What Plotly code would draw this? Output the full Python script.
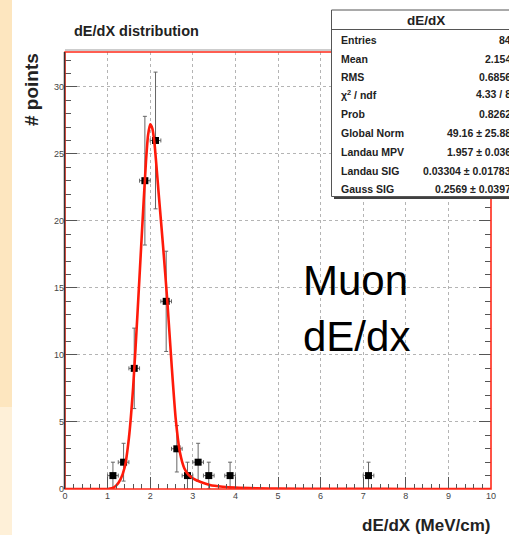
import plotly.graph_objects as go

# Histogram of dE/dX (bin width 0.25 MeV/cm)
bin_centers = [1.125, 1.375, 1.625, 1.875, 2.125, 2.375, 2.625, 2.875, 3.125, 3.375, 3.875, 7.125]
counts = [1, 2, 9, 23, 26, 14, 3, 1, 2, 1, 1, 1]
count_errors = [1.0, 1.41, 3.0, 4.8, 5.1, 3.74, 1.73, 1.0, 1.41, 1.0, 1.0, 1.0]
half_bin = 0.125

# Landau (x) Gauss fit curve
fit_x = [0.0, 0.9, 1.0, 1.1, 1.2, 1.3, 1.4, 1.5, 1.6, 1.7, 1.8, 1.9, 1.95, 2.0, 2.05,
         2.1, 2.2, 2.3, 2.4, 2.5, 2.6, 2.7, 2.8, 2.9, 3.0, 3.2, 3.4, 3.7, 4.0, 4.5,
         5.0, 6.0, 7.0, 8.0, 10.0]
fit_y = [0.0, 0.0, 0.0, 0.05, 0.25, 0.7, 1.6, 3.8, 7.6, 13.0, 18.8, 24.4, 26.4, 27.2, 26.9,
         25.8, 22.0, 18.2, 14.1, 9.4, 5.2, 2.7, 1.55, 1.05, 0.8, 0.5, 0.3, 0.17, 0.1, 0.05,
         0.03, 0.015, 0.008, 0.004, 0.0]

# Statistics box contents
stats_title = "dE/dX"
stats_labels = ["Entries", "Mean", "RMS", "χ<sup>2</sup> / ndf", "Prob", "Global Norm",
                "Landau MPV", "Landau SIG", "Gauss SIG"]
stats_values = ["84", "2.154", "0.6856", "4.33 / 8", "0.8262", "49.16 ± 25.88",
                "1.957 ± 0.036", "0.03304 ± 0.01783", "0.2569 ± 0.0397"]

x_ticks = list(range(0, 11))
y_ticks = [0, 5, 10, 15, 20, 25, 30]

W, H = 509, 535
ML, MR, MT, MB = 65, 18, 52, 46
PW, PH = W - ML - MR, H - MT - MB
FONT = "Liberation Sans, Arial, Helvetica, sans-serif"


def px(xp):
    return (xp - ML) / PW


def py(yp):
    return (H - MB - yp) / PH


fig = go.Figure()

fig.add_trace(go.Scatter(
    x=bin_centers, y=counts, mode="markers",
    marker=dict(symbol="square", size=7, color="black"),
    error_y=dict(type="data", array=count_errors, color="#666666", thickness=1, width=2),
    error_x=dict(type="constant", value=half_bin, color="#666666", thickness=1, width=2),
    showlegend=False,
))

fig.add_trace(go.Scatter(
    x=fit_x, y=fit_y, mode="lines",
    line=dict(color="#ff1a0a", width=2.6, shape="spline", smoothing=0.6),
    showlegend=False,
))

axis_common = dict(
    showgrid=True, gridcolor="#b4b4b4", griddash="dot", gridwidth=1,
    zeroline=False, ticks="inside", ticklen=12, tickwidth=1, tickcolor="#555555",
    tickfont=dict(family=FONT, size=9, color="#444444"),
    showline=False,
)

fig.update_xaxes(
    range=[0, 10], tickvals=x_ticks, ticktext=[str(v) for v in x_ticks],
    minor=dict(ticks="inside", ticklen=5, dtick=0.2, tickcolor="#555555", showgrid=False),
    **axis_common,
)
fig.update_yaxes(
    range=[0, 32.6], tickvals=y_ticks, ticktext=[str(v) for v in y_ticks],
    mirror="ticks",
    minor=dict(ticks="inside", ticklen=6, dtick=1, tickcolor="#555555", showgrid=False),
    **axis_common,
)

shapes = []
# left side band of the page
shapes.append(dict(type="rect", xref="paper", yref="paper",
                   x0=px(0), x1=px(12), y0=py(0), y1=py(407),
                   fillcolor="#fde6bf", line=dict(width=0), layer="below"))
shapes.append(dict(type="rect", xref="paper", yref="paper",
                   x0=px(0), x1=px(12), y0=py(407), y1=py(535),
                   fillcolor="#fef0d8", line=dict(width=0), layer="below"))
# frame
shapes.append(dict(type="rect", xref="paper", yref="paper", x0=0, x1=1, y0=0, y1=1,
                   line=dict(color="#ff2a1a", width=1.6), layer="above"))
shapes.append(dict(type="line", xref="paper", yref="paper", x0=px(64.5), x1=px(64.5),
                   y0=0, y1=1, line=dict(color="#3a3030", width=1.5)))
shapes.append(dict(type="line", xref="paper", yref="paper", x0=0, x1=1,
                   y0=py(50), y1=py(50), line=dict(color="#9a9a9a", width=1)))
# statistics box with shadow
shapes.append(dict(type="rect", xref="paper", yref="paper",
                   x0=px(334), x1=px(525), y0=py(199), y1=py(13),
                   fillcolor="#404040", line=dict(width=0)))
shapes.append(dict(type="rect", xref="paper", yref="paper",
                   x0=px(331.5), x1=px(522), y0=py(196.5), y1=py(10),
                   fillcolor="white", line=dict(color="#555555", width=1)))
shapes.append(dict(type="line", xref="paper", yref="paper",
                   x0=px(331.5), x1=px(522), y0=py(29.5), y1=py(29.5),
                   line=dict(color="#555555", width=1)))

annotations = []
annotations.append(dict(xref="paper", yref="paper", x=px(72), y=py(31),
                        xanchor="left", yanchor="middle", showarrow=False,
                        text="<b>dE/dX distribution</b>",
                        font=dict(family=FONT, size=14.5, color="#222222")))
annotations.append(dict(xref="paper", yref="paper", x=px(31), y=py(90),
                        xanchor="center", yanchor="middle", showarrow=False, textangle=-90,
                        text="<b># points</b>",
                        font=dict(family=FONT, size=19, color="#222222")))
annotations.append(dict(xref="paper", yref="paper", x=px(492), y=py(525),
                        xanchor="right", yanchor="middle", showarrow=False,
                        text="<b>dE/dX (MeV/cm)</b>",
                        font=dict(family=FONT, size=17, color="#222222")))
annotations.append(dict(xref="paper", yref="paper", x=px(355), y=py(280),
                        xanchor="center", yanchor="middle", showarrow=False,
                        text="Muon", font=dict(family=FONT, size=42, color="black")))
annotations.append(dict(xref="paper", yref="paper", x=px(356), y=py(336),
                        xanchor="center", yanchor="middle", showarrow=False,
                        text="dE/dx", font=dict(family=FONT, size=42, color="black")))
annotations.append(dict(xref="paper", yref="paper", x=px(426), y=py(21),
                        xanchor="center", yanchor="middle", showarrow=False,
                        text="<b>" + stats_title + "</b>",
                        font=dict(family=FONT, size=13.5, color="#222222")))
row_y = [39.5, 59, 77, 94.5, 114, 132.5, 151.5, 170.5, 189]
for lab, val, yy in zip(stats_labels, stats_values, row_y):
    annotations.append(dict(xref="paper", yref="paper", x=px(339), y=py(yy),
                            xanchor="left", yanchor="middle", showarrow=False,
                            text="<b>" + lab + "</b>",
                            font=dict(family=FONT, size=10.5, color="#222222")))
    annotations.append(dict(xref="paper", yref="paper", x=px(513), y=py(yy),
                            xanchor="right", yanchor="middle", showarrow=False,
                            text="<b>" + val + "</b>",
                            font=dict(family=FONT, size=10.5, color="#222222")))

fig.update_layout(
    width=W, height=H,
    margin=dict(l=ML, r=MR, t=MT, b=MB, pad=0),
    paper_bgcolor="white", plot_bgcolor="white",
    shapes=shapes, annotations=annotations,
    showlegend=False,
)

fig.write_html("out.html")
